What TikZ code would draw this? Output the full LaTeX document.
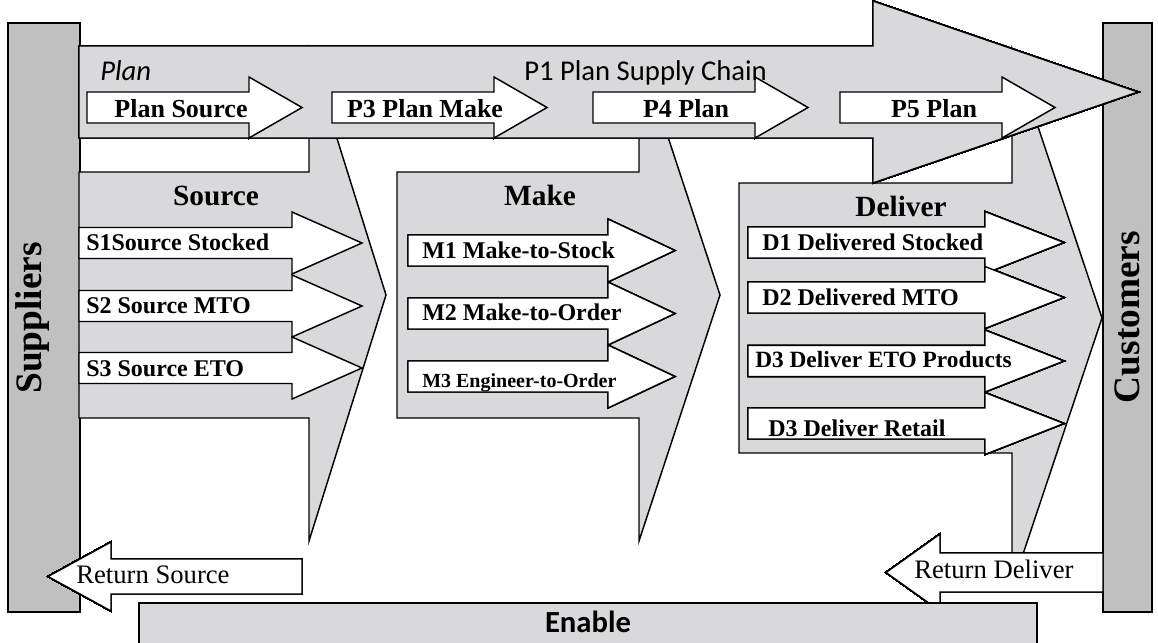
\documentclass[tikz,border=0pt]{standalone}
\usepackage{fontspec}
\setmainfont{Liberation Serif}
\newfontfamily\calibri{Carlito}
\usepackage{tikz}
\definecolor{chaingray}{RGB}{217,217,219}
\definecolor{bargray}{RGB}{192,192,192}
\tikzstyle{grayshape} = [draw=black, fill=chaingray, line width=1.1pt]
\tikzstyle{whiteshape} = [draw=black, fill=white, line width=1.1pt]
\tikzstyle{sidebar} = [draw=black, fill=bargray, line width=1.1pt]
\tikzstyle{steptext} = [inner sep=0pt, font=\fontsize{18}{18}\selectfont\bfseries]
\tikzstyle{plantext} = [inner sep=0pt, font=\fontsize{19.5}{20}\selectfont\bfseries]
\tikzstyle{titletext} = [inner sep=0pt, font=\fontsize{22}{22}\selectfont\bfseries]
\tikzstyle{sidetext} = [inner sep=0pt, rotate=90, font=\fontsize{28}{28}\selectfont\bfseries]
\tikzstyle{returntext} = [inner sep=0pt, font=\fontsize{20}{20}\selectfont]
\tikzstyle{caltext} = [inner sep=0pt, font=\calibri\fontsize{21.5}{22}\selectfont]

% block arrow: [style]{tail x}{head x}{tip x}{mid y}{half body}{half head}
\newcommand{\chainarrow}[7][]{%
  \draw[#1] (#2,#5-#6) -- (#3,#5-#6) -- (#3,#5-#7) -- (#4,#5)
    -- (#3,#5+#7) -- (#3,#5+#6) -- (#2,#5+#6) -- cycle;}

\begin{document}
\begin{tikzpicture}[x=0.75pt, y=-0.75pt]
\useasboundingbox (0,0) rectangle (1158,643);
% side bars
\draw[sidebar] (8,23) rectangle (80,612);
\draw[sidebar] (1103,23) rectangle (1152,612);
% source, make, deliver
\chainarrow[grayshape]{79}{309}{386}{295}{123}{246}
\chainarrow[grayshape]{397}{639}{720}{295}{123}{246}
\chainarrow[grayshape]{739}{1012}{1102}{318}{135}{269}
\foreach \y in {243,306,368}
  \chainarrow[whiteshape]{79}{292}{362}{\y}{15.5}{31}
\foreach \y in {250.5,313.5,376.5}
  \chainarrow[whiteshape]{408}{608}{675}{\y}{15.5}{31.5}
\foreach \y in {242.5,297.5,361,423.5}
  \chainarrow[whiteshape]{748}{985}{1064}{\y}{15.5}{31}
% plan
\chainarrow[grayshape]{79}{873}{1138}{92}{46}{91}
\foreach \x in {87,332,593,840}
  \chainarrow[whiteshape]{\x}{\x+162}{\x+215}{107.5}{15.5}{30.5}
% return and enable
\chainarrow[whiteshape]{302}{111}{48}{576.5}{17.5}{34.5}
\chainarrow[whiteshape]{1103}{940}{886}{572.5}{19.5}{38.5}
\draw[grayshape] (139,603) rectangle (1037,660);

\node[sidetext] (suppliers) at (33,318) {Suppliers};
\node[sidetext] (customers) at (1127,317) {Customers};
\node[caltext, font=\calibri\itshape\fontsize{21.5}{22}\selectfont, anchor=base west] (plan) at (100,80) {Plan};
\node[caltext, anchor=base west] (p1) at (524,80) {P1 Plan Supply Chain};
\node[plantext, anchor=base] (p2) at (181,117) {Plan Source};
\node[plantext, anchor=base] (p3) at (425,117) {P3 Plan Make};
\node[plantext, anchor=base] (p4) at (686,117) {P4 Plan};
\node[plantext, anchor=base] (p5) at (934,117) {P5 Plan};
\node[titletext, anchor=base] (source) at (216,205) {Source};
\node[titletext, anchor=base] (make) at (540,205) {Make};
\node[titletext, anchor=base] (deliver) at (901,216) {Deliver};
\node[steptext, anchor=base west] (s1) at (86,250.5) {S1Source Stocked};
\node[steptext, anchor=base west] (s2) at (86,313) {S2 Source MTO};
\node[steptext, anchor=base west] (s3) at (86,376) {S3 Source ETO};
\node[steptext, anchor=base west] (m1) at (422,258) {M1 Make-to-Stock};
\node[steptext, anchor=base west] (m2) at (422,320.5) {M2 Make-to-Order};
\node[steptext, font=\fontsize{15}{15}\selectfont\bfseries, anchor=base west] (m3) at (422,387) {M3 Engineer-to-Order};
\node[steptext, anchor=base west] (d1) at (762,250) {D1 Delivered Stocked};
\node[steptext, anchor=base west] (d2) at (762,305) {D2 Delivered MTO};
\node[steptext, font=\fontsize{17.5}{18}\selectfont\bfseries, anchor=base west] (d3) at (755,367) {D3 Deliver ETO Products};
\node[steptext, anchor=base west] (d4) at (768,436) {D3 Deliver Retail};
\node[returntext, anchor=base west] (rsource) at (76,583) {Return Source};
\node[returntext, anchor=base west] (rdeliver) at (914,578) {Return Deliver};
\node[caltext, font=\calibri\bfseries\fontsize{23}{23}\selectfont, anchor=base] (enable) at (588,632) {Enable};
\end{tikzpicture}
\end{document}
